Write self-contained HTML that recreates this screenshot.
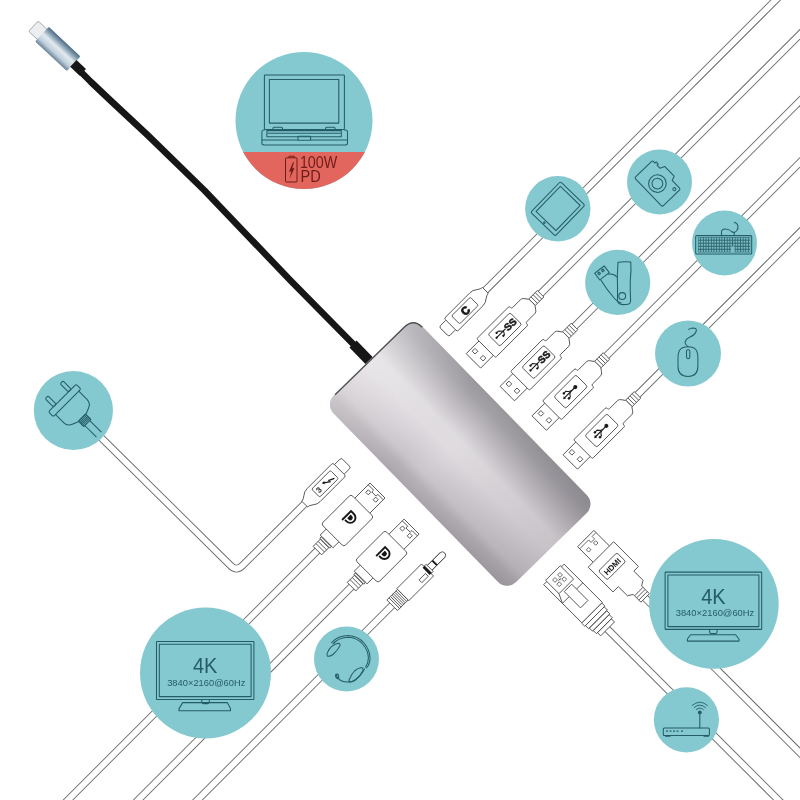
<!DOCTYPE html>
<html><head><meta charset="utf-8">
<style>
html,body{margin:0;padding:0;background:#fff;width:800px;height:800px;overflow:hidden}
svg{display:block;will-change:transform}
text{font-family:"Liberation Sans",sans-serif}
</style></head><body>
<svg width="800" height="800" viewBox="0 0 800 800">
<defs>
  <linearGradient id="huby" gradientUnits="userSpaceOnUse" x1="0" y1="-62.15" x2="0" y2="62.15">
    <stop offset="0" stop-color="#9a979d"/>
    <stop offset="0.097" stop-color="#a3a0a6"/>
    <stop offset="0.3" stop-color="#c9c5ca"/>
    <stop offset="0.42" stop-color="#dfdce0"/>
    <stop offset="0.54" stop-color="#dfdbdf"/>
    <stop offset="0.70" stop-color="#d3ced3"/>
    <stop offset="0.82" stop-color="#c9c4c9"/>
    <stop offset="0.90" stop-color="#b6b1b6"/>
    <stop offset="1" stop-color="#aaa5ab"/>
  </linearGradient>
  <linearGradient id="hubw" gradientUnits="userSpaceOnUse" x1="-132" y1="0" x2="-40" y2="0">
    <stop offset="0" stop-color="#fff" stop-opacity="0.3"/>
    <stop offset="1" stop-color="#fff" stop-opacity="0"/>
  </linearGradient>
  <linearGradient id="hubk" gradientUnits="userSpaceOnUse" x1="-10" y1="0" x2="132" y2="0">
    <stop offset="0" stop-color="#201a22" stop-opacity="0"/>
    <stop offset="1" stop-color="#201a22" stop-opacity="0.13"/>
  </linearGradient>
  <linearGradient id="cplug" x1="0" y1="0" x2="0" y2="1">
    <stop offset="0" stop-color="#4d6b83"/>
    <stop offset="0.18" stop-color="#7f9aae"/>
    <stop offset="0.45" stop-color="#e2eaf0"/>
    <stop offset="0.75" stop-color="#c0cfdb"/>
    <stop offset="1" stop-color="#68839a"/>
  </linearGradient>
  <pattern id="keys" patternUnits="userSpaceOnUse" x="698.5" y="237.6" width="2.65" height="3.05"><rect x="0" y="0" width="1.75" height="2.05" fill="#7cbcc4"/></pattern>
  <g id="cab"><line x1="0" y1="0" x2="1200" y2="0" stroke="#6a6a6a" stroke-width="7.7"/><line x1="0" y1="0" x2="1200" y2="0" stroke="#fff" stroke-width="5.9"/></g>

  <!-- USB-C style plug -->
  <g id="pc">
    <rect x="0" y="-6.8" width="11" height="13.6" rx="2"/>
    <path d="M9.5,-7.5 Q9.5,-9.2 11.5,-9.2 L46,-9.2 Q50,-9.2 53,-6.5 Q56,-4.2 58.5,-4 L58.5,4 Q56,4.2 53,6.5 Q50,9.2 46,9.2 L11.5,9.2 Q9.5,9.2 9.5,7.5 Z"/>
    <rect x="16.5" y="-5.8" width="26.5" height="11.4" rx="1.5"/>
  </g>
  <!-- USB-A plug -->
  <g id="pa">
    <rect x="0" y="-10.2" width="19" height="20.4"/>
    <rect x="6" y="-7.7" width="4" height="4"/>
    <rect x="6.8" y="2.9" width="4" height="4"/>
    <path d="M18,-12 Q18,-13.3 19.5,-13.3 L62.5,-13.3 Q64,-13.3 64,-12 L64,-11.3 Q64,-10 65.5,-10 L77,-10 Q79,-10 80.5,-7.5 L82.5,-4.6 L83,-4.6 L83,4.6 L82.5,4.6 L80.5,7.5 Q79,10 77,10 L65.5,10 Q64,10 64,11.3 L64,12 Q64,13.3 62.5,13.3 L19.5,13.3 Q18,13.3 18,12 Z"/>
    <rect x="29" y="-8.3" width="31" height="16.6" rx="2"/>
    <rect x="83" y="-4.6" width="12" height="9.2"/>
    <path d="M86,-4.6 V4.6 M89,-4.6 V4.6 M92,-4.6 V4.6" fill="none"/>
  </g>
  <!-- USB2 trident: arrow at -x, base dot at +x -->
  <g id="tri2u" fill="#1a1a1a" stroke="none">
    <path d="M-7,0 H7" stroke="#1a1a1a" stroke-width="1.2" fill="none"/>
    <path d="M-9.3,0 L-6.6,-1.7 L-6.6,1.7 Z"/>
    <path d="M3,0 Q0,-1 -1.5,-3.6 H-4" stroke="#1a1a1a" stroke-width="1.1" fill="none"/>
    <circle cx="-4.6" cy="-3.6" r="1.3"/>
    <path d="M1,0 Q-1.5,1 -2.5,3.4 H-4" stroke="#1a1a1a" stroke-width="1.1" fill="none"/>
    <rect x="-5.6" y="2.3" width="2.3" height="2.3"/>
    <circle cx="8" cy="0" r="2"/>
  </g>
  <!-- SS logo -->
  <g id="sslogo" fill="#1a1a1a" stroke="none">
    <path d="M33,0 H45.5" stroke="#1a1a1a" stroke-width="1.1" fill="none"/>
    <circle cx="32.8" cy="0" r="1.15"/>
    <path d="M42,0 L39,-3.4 H36.5" stroke="#1a1a1a" stroke-width="1" fill="none"/>
    <circle cx="36.2" cy="-3.4" r="1.15"/>
    <path d="M42.5,0 L40.5,3.4 H39.5" stroke="#1a1a1a" stroke-width="1" fill="none"/>
    <rect x="38" y="2.4" width="2" height="2"/>
    <text x="51.8" y="3.7" font-size="10" font-weight="bold" text-anchor="middle" stroke="#1a1a1a" stroke-width="0.5">SS</text>
  </g>
  <g id="dlogo">
    <path d="M-4.2,7.4 V-5.2 H0 A5.2,5.2 0 0 1 0,5.2 H-2.2" fill="none" stroke="#161616" stroke-width="1.9"/>
    <path d="M-1.9,-2.5 H0 A2.5,2.5 0 0 1 0,2.5 H-1.9 Z" fill="#161616" stroke="none"/>
  </g>
  <!-- DP plug -->
  <g id="pd">
    <rect x="0" y="-10.6" width="23" height="21.2"/>
    <path d="M2.5,-10.6 V-3 H5 V3 H2.5 V10.6" fill="none"/>
    <rect x="6" y="-7" width="3.6" height="3.6"/>
    <rect x="6" y="3.4" width="3.6" height="3.6"/>
    <rect x="62" y="-9" width="10" height="18"/>
    <rect x="21.5" y="-16" width="42" height="32" rx="2.5"/>
    <rect x="72" y="-6" width="13" height="12"/>
    <path d="M75,-6 V6 M78,-6 V6 M81,-6 V6" fill="none"/>
    <rect x="72.5" y="-7" width="2" height="14"/>
  </g>
</defs>
<rect width="800" height="800" fill="#fff"/>

<!-- power cable -->
<path d="M346,462.7 L242.5,565.5 Q236.5,571.5 230.5,565.5 L60,397" fill="none" stroke="#6a6a6a" stroke-width="7.7"/>
<path d="M346,462.7 L242.5,565.5 Q236.5,571.5 230.5,565.5 L60,397" fill="none" stroke="#fff" stroke-width="5.9"/>

<g fill="#fff" stroke="#505050" stroke-width="0.9">
  <!-- USB-C (upper right) -->
  <g transform="translate(444,331.7) rotate(-45)">
    <use href="#cab"/><use href="#pc"/>
    <text x="30" y="4.1" font-size="11" font-weight="bold" fill="#1a1a1a" stroke="#1a1a1a" stroke-width="0.9" text-anchor="middle">C</text>
  </g>
  <!-- SS1 -->
  <g transform="translate(473.4,360.9) rotate(-45)">
    <use href="#cab"/><use href="#pa"/>
    <use href="#sslogo"/>
  </g>
  <!-- SS2 -->
  <g transform="translate(507.3,393.6) rotate(-45)">
    <use href="#cab"/><use href="#pa"/>
    <use href="#sslogo"/>
  </g>
  <!-- USB2 #1 -->
  <g transform="translate(539.25,423.1) rotate(-45)">
    <use href="#cab"/><use href="#pa"/>
    <use href="#tri2u" transform="translate(43,0)"/>
  </g>
  <!-- USB2 #2 -->
  <g transform="translate(570.3,462) rotate(-45)">
    <use href="#cab"/><use href="#pa"/>
    <use href="#tri2u" transform="translate(43,0)"/>
  </g>
  <!-- TB3 (lower left) -->
  <g transform="translate(346,462.7) rotate(135)">
    <use href="#pc"/>
    <path d="M19.3,-2.9 L25.2,-0.1 M24.2,-2.6 L30,1.4" fill="none" stroke="#161616" stroke-width="1.3"/>
    <path d="M31.8,2.6 L28.2,2.4 L30.3,-0.2 Z" fill="#161616" stroke="none"/>
    <text transform="translate(38.5,0) rotate(180)" x="0" y="2.6" font-size="7.6" text-anchor="middle" fill="#161616" stroke="#161616" stroke-width="0.25">3</text>
  </g>
  <!-- DP1 -->
  <g transform="translate(377.5,490.5) rotate(135)">
    <use href="#cab"/><use href="#pd"/>
    <use href="#dlogo" transform="translate(38.5,0) rotate(-90)"/>
  </g>
  <!-- DP2 -->
  <g transform="translate(411.6,526.6) rotate(135)">
    <use href="#cab"/><use href="#pd"/>
    <use href="#dlogo" transform="translate(38.5,0) rotate(-90)"/>
  </g>
  <!-- audio -->
  <g transform="translate(443.1,554.4) rotate(135)">
    <use href="#cab"/>
    <path d="M1,-3.2 H20 V3.2 H1 A3.2,3.2 0 0 1 1,-3.2 Z"/>
    <rect x="11" y="-3.2" width="2" height="6.4" fill="#1a1a1a" stroke="none"/>
    <rect x="19" y="-5" width="3" height="10"/>
    <rect x="22" y="-8.5" width="35" height="17"/>
    <rect x="26" y="-5" width="9" height="4"/>
    <rect x="21" y="-5" width="3" height="10" fill="#1a1a1a" stroke="none"/>
    <rect x="57" y="-7.5" width="15" height="15"/>
    <path d="M59,-7.5 V7.5 M61,-7.5 V7.5 M63,-7.5 V7.5 M65,-7.5 V7.5 M67,-7.5 V7.5 M69,-7.5 V7.5" fill="none"/>
  </g>
  <!-- HDMI (lower right) -->
  <g transform="translate(585.75,538.55) rotate(45)">
    <use href="#cab"/>
    <rect x="0" y="-11.5" width="24" height="23"/>
    <path d="M3,-11.5 V-6 H6.5 V-1 H3 V11.5" fill="none" stroke-width="0.8"/>
    <rect x="8.6" y="-5.5" width="3.2" height="3.2" stroke-width="0.8"/>
    <rect x="8.4" y="4.3" width="3.2" height="3.2" stroke-width="0.8"/>
    <path d="M22,-17.5 H57 V-11 H70 L73,-6 H84 V6 H73 L70,11 H57 V18.5 H22 Z"/>
    <rect x="32" y="-12" width="12.5" height="26" rx="2"/>
    <path d="M75,-6 V6 M78,-6 V6 M81,-6 V6" fill="none"/>
    <text transform="translate(41.5,1) rotate(-90)" font-size="8" font-weight="bold" fill="#1a1a1a" stroke="none" text-anchor="middle">HDMI</text>
  </g>
  <!-- RJ45 -->
  <g transform="translate(553.3,575) rotate(45)">
    <use href="#cab"/>
    <path d="M54,-14.5 H58.5 V14 H54 Z M58.5,-13.5 H63 V13 H58.5 Z M63,-12.5 H67.5 V12 H63 Z M67.5,-11.5 H72 V11 H67.5 Z M72,-10 H76.5 V9.5 H72 Z"/>
    <rect x="0" y="-15.3" width="54" height="28.9"/>
    <path d="M26.4,-15.3 V-6.5 M26.5,4 V13.6 M17.2,9.2 L26.5,13.6" fill="none"/>
    <rect x="19.5" y="-6.5" width="23" height="10.5"/>
    <rect x="-1.7" y="-11.5" width="18.9" height="20.7"/>
    <g stroke-width="0.8">
      <rect x="3" y="-6.5" width="3.4" height="3.4"/>
      <rect x="9" y="-6.5" width="3.4" height="3.4"/>
      <rect x="3" y="0.6" width="3.4" height="3.4"/>
      <rect x="9" y="0.6" width="3.4" height="3.4"/>
      <path d="M6.4,-1.5 L9,-1.5 M7.7,-3.1 V0.6" fill="none"/>
    </g>
  </g>
</g>

<!-- circles -->
<g fill="#85c9d0">
  <circle cx="304" cy="120.5" r="68.5"/>
  <circle cx="557.8" cy="208.8" r="32.7"/>
  <circle cx="659.5" cy="182" r="32.5"/>
  <circle cx="617.7" cy="282.4" r="32.6"/>
  <circle cx="724.5" cy="243" r="32.5"/>
  <circle cx="688" cy="353.5" r="33"/>
  <circle cx="73.4" cy="410.5" r="39.6"/>
  <circle cx="205.5" cy="672.9" r="65.5"/>
  <circle cx="346.5" cy="659" r="32.5"/>
  <circle cx="713.9" cy="603.9" r="64.8"/>
  <circle cx="686.4" cy="719.8" r="32.6"/>
</g>
<clipPath id="lapclip"><circle cx="304" cy="120.5" r="68.5"/></clipPath>
<rect x="230" y="152" width="150" height="40" fill="#e2665e" clip-path="url(#lapclip)"/>


<!-- icons -->
<g fill="none" stroke="#245d66" stroke-width="1.05" stroke-linejoin="round" stroke-linecap="round">
  <!-- laptop -->
  <rect x="264.4" y="75" width="80" height="54.4" rx="0.8"/>
  <rect x="269.4" y="79.4" width="69.4" height="43.7"/>
  <rect x="273" y="127.2" width="9.5" height="2.6" rx="1"/>
  <rect x="325.6" y="127.2" width="9.5" height="2.6" rx="1"/>
  <path d="M264.4,130 H263.5 Q261.9,130 261.9,132 V143 Q261.9,145 264,145 H345.5 Q347.5,145 347.5,143 V132 Q347.5,130 345.5,130 H344.4"/>
  <rect x="266.9" y="130.6" width="74.4" height="6.2"/>
  <path d="M268,133.2 H340.2"/>
  <path d="M262.2,140 H298 M310.6,140 H347.2"/>
  <rect x="298" y="136.3" width="12.6" height="4" rx="0.6"/>
  <!-- tablet -->
  <g transform="translate(557.8,208.8) rotate(44)">
    <rect x="-17" y="-21.3" width="34" height="42.6" rx="1.5"/>
    <rect x="-13.8" y="-18" width="27.6" height="35"/>
    <circle cx="0" cy="19.3" r="0.8"/>
  </g>
  <!-- camera -->
  <g transform="translate(657.4,183.6) rotate(46)">
    <path d="M-20,-11 Q-20,-12.5 -18.5,-12.5 H-16.5 V-14.2 H-13.5 V-12.5 H-9.3 L-7,-17.2 H6.3 L8,-12.8 H18.6 Q20,-12.8 20,-11.3 V11 Q20,12.5 18.5,12.5 H-18.5 Q-20,12.5 -20,11 Z"/>
    <circle cx="0" cy="0" r="8.8"/>
    <circle cx="0" cy="0" r="5.4"/>
    <circle cx="15.8" cy="-8.3" r="1.5"/>
  </g>
  <!-- usb stick -->
  <path d="M618,262.2 Q624,261.4 630.8,262 Q631.4,270 630.3,280 Q630,290 630.6,300 Q631,304.5 626,304.6 H623 Q617.5,304.5 617.5,300 Q617.7,288 617.3,276 Q617.6,270 618,262.2 Z"/>
  <circle cx="622.2" cy="296" r="3.4"/>
  <path d="M600.8,280 Q607,290 614.5,298.5 Q617.5,302 621,303"/>
  <path d="M608.6,274.2 Q613.8,273.3 616.8,277"/>
  <g transform="translate(602,272.9) rotate(-38)">
    <rect x="-6" y="-4.2" width="12" height="8.4"/>
    <rect x="-3.6" y="-2.4" width="2" height="2"/>
    <rect x="1.2" y="-2.4" width="2" height="2"/>
  </g>
  <!-- keyboard -->
  <rect x="695.7" y="235.6" width="56" height="18.3" rx="1"/>
  <path d="M721.5,235.6 V231.5 Q722,229 725,229 Q729,229 731.5,231.5 Q734,233.5 736.5,231 Q738.5,228.5 737.8,225.3 Q737,222.6 734.4,222.4"/>
  <path d="M734.2,232.3 V235.6"/>
  <!-- mouse -->
  <path d="M688,346.8 C680,346.8 678,351 678,358 V366 C678,373 682,376.5 688,376.5 C694,376.5 697.9,373 697.9,366 V358 C697.9,351 696,346.8 688,346.8 Z"/>
  <rect x="686.5" y="349.7" width="3.3" height="8.9" rx="1.5"/>
  <path d="M688.2,346.8 Q684.5,344 685.2,341.5 Q686.3,338.5 690,337 Q695,335 696.3,331 Q696.8,328 693,327.9 Q690,327.9 688.6,329.5"/>
  <!-- power plug -->
  <g transform="translate(64.7,400.4) rotate(45)">
    <rect x="-3.4" y="-19.5" width="6.8" height="39" rx="1.5"/>
    <rect x="-15" y="-12.6" width="11.6" height="4" rx="1.5"/>
    <rect x="-15" y="8.6" width="11.6" height="4" rx="1.5"/>
    <path d="M3.4,-16.5 H15 Q20.5,-16.5 22.5,-11 L24.5,-6 V6 L22.5,11 Q20.5,16.5 15,16.5 H3.4"/>
    <rect x="24.5" y="-5" width="7.5" height="10"/>
    <path d="M26,-5 V5 M27.5,-5 V5 M29,-5 V5 M30.5,-5 V5"/>
    <path d="M32,-3.5 H48 M32,3.5 H48"/>
  </g>
  <!-- headset -->
  <path d="M331.6,642.6 Q338,635.5 348.5,635.5 Q358,636 364,643 Q370,650 370,658 Q370,664 366.5,668"/>
  <path d="M333,643.8 Q339,637.2 348.5,637.2 Q357,637.6 362.6,644 Q368.4,650.6 368.4,658 Q368.4,663 365.5,667"/>
  <path d="M328,651.5 Q326.3,654.3 327.3,656 Q329.3,657 333,654.5 Q338,650 340,645.6 Q340.5,643.5 338.5,643.2 Q335,643.5 331.5,646.6 Q329.2,648.8 328,651.5 Z"/>
  <path d="M350,678 Q348.3,680.5 349.6,681.8 Q352,682.5 355.5,680 Q360.5,675.8 363,670.4 Q363.6,667.8 361.4,667.5 Q358,668 354.5,671 Q351.6,674 350,678 Z"/>
  <path d="M364.5,669 Q360,678 352,681.5 Q344,683 340,680 Q336.5,677.5 336.5,675"/>
  <path d="M335.7,674.5 Q335.2,677.5 337.6,678.7 Q339.2,677.7 338.6,675 Q337.5,673.5 335.7,674.5 Z"/>
  <!-- router -->
  <rect x="663.3" y="728" width="46.1" height="7.5" rx="1"/>
  <path d="M699.8,714 V728"/>
  <path d="M665.5,736.3 H670 M704,736.3 H708.5"/>
  <path d="M696.3,709.5 Q699.8,706.5 703.3,709.5 M694.2,707.5 Q699.8,702.5 705.4,707.5 M692.2,705.4 Q699.8,698.8 707.4,705.4" stroke-width="0.9"/>
  <!-- monitors -->
  <rect x="156.5" y="641.4" width="97.4" height="58" rx="0.5"/>
  <rect x="159.3" y="644.2" width="91.8" height="52.4"/>
  <path d="M201.8,699.4 V702 Q201.8,703.6 203.5,703.6 H207.6 Q209.3,703.6 209.3,702 V699.4"/>
  <path d="M182.7,702.6 H227.3 L230.5,708.6 V710.7 H179 V708.6 Z"/>
  <rect x="665.1" y="572.1" width="96.6" height="57.3" rx="0.5"/>
  <rect x="667.9" y="574.9" width="91" height="51.7"/>
  <path d="M709.6,629.4 V632 Q709.6,633.6 711.3,633.6 H715.4 Q717.1,633.6 717.1,632 V629.4"/>
  <path d="M690.6,634.75 H735.6 L739,639 V641.1 H687.4 V639 Z"/>
</g>
<g fill="#245d66">
  <circle cx="699.8" cy="712.4" r="1.9"/>
  <path d="M666,730.6 h2 v1.2 h-2z M669.5,730.6 h2 v1.2 h-2z M673,730.6 h2 v1.2 h-2z M676.5,730.6 h2 v1.2 h-2z M681,730.6 h2 v1.2 h-2z"/>
  <!-- keyboard keys area -->
  <rect x="697.9" y="237.1" width="52.4" height="15.3" fill="#2f6a72"/><rect x="697.9" y="237.1" width="52.4" height="15.3" fill="url(#keys)"/><rect x="731" y="246.5" width="3.5" height="6" fill="#7fbfc6"/>
  <text x="205.2" y="673.4" font-size="22" text-anchor="middle" textLength="24.4" lengthAdjust="spacingAndGlyphs">4K</text>
  <text x="713.4" y="604" font-size="22" text-anchor="middle" textLength="24.4" lengthAdjust="spacingAndGlyphs">4K</text>
  <text x="206.3" y="685.6" font-size="8.8" text-anchor="middle" textLength="78.2" lengthAdjust="spacingAndGlyphs">3840×2160@60Hz</text>
  <text x="715" y="615.6" font-size="8.8" text-anchor="middle" textLength="78.6" lengthAdjust="spacingAndGlyphs">3840×2160@60Hz</text>
</g>
<g fill="#6e1d18">
  <text x="299.9" y="167.6" font-size="16.4" textLength="37.4" lengthAdjust="spacingAndGlyphs">100W</text>
  <text x="300.6" y="181.8" font-size="17" textLength="20.3" lengthAdjust="spacingAndGlyphs">PD</text>
  <path d="M293,162.3 L289,171.8 L291.3,171.2 L289.6,178.8 L294.6,167.8 L292.2,168.4 L294,162.3 Z"/>
</g>
<g fill="none" stroke="#6e1d18" stroke-width="1">
  <rect x="285.5" y="157.8" width="11.5" height="24.2" rx="0.8"/>
  <path d="M289,157.8 V156.2 H294.2 V157.8"/>
</g>

<!-- black cable -->
<path d="M76,67 L91,82 L110,100 L147.5,135 L204.5,190.5 L290,280 L362,353" fill="none" stroke="#161616" stroke-width="6.6" stroke-linejoin="round"/>
<line x1="353" y1="344" x2="369" y2="360.5" stroke="#161616" stroke-width="10"/>
<!-- usb-c plug top-left -->
<g transform="translate(41.9,34.1) rotate(43)">
  <rect x="-11.6" y="-7" width="13" height="14" rx="1.5" fill="#eceef0" stroke="#8d9aa4" stroke-width="0.8"/>
  <rect x="0" y="-10" width="43.5" height="20" rx="1.5" fill="url(#cplug)"/>
  <rect x="43" y="-4.6" width="13" height="9.2" fill="#161616"/>
</g>

<!-- hub -->
<g transform="translate(460.2,454.3) rotate(45.7)">
  <rect x="-130.5" y="-62.15" width="261" height="124.3" rx="13" fill="url(#huby)"/>
  <rect x="-130.5" y="-62.15" width="261" height="124.3" rx="13" fill="url(#hubw)"/>
  <rect x="-130.5" y="-62.15" width="261" height="124.3" rx="13" fill="url(#hubk)"/>
  <path d="M-130,48 V-49 Q-130,-61.6 -117.4,-61.6" fill="none" stroke="#4c4b50" stroke-width="1.3"/>
</g>

</svg>
</body></html>
